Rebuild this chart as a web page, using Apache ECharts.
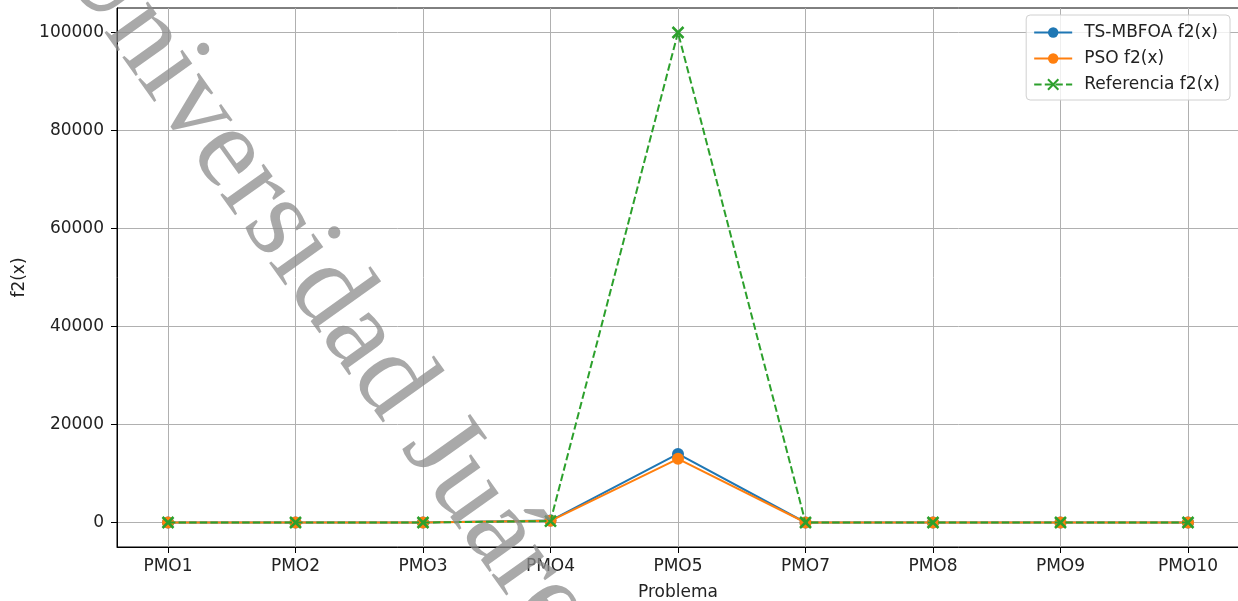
<!DOCTYPE html>
<html>
<head>
<meta charset="utf-8">
<script src="https://cdn.jsdelivr.net/npm/echarts@6/dist/echarts.min.js"></script>
<style>
  html, body { margin: 0; padding: 0; background: #fff; }
  #chart { width: 1238px; height: 601px; }
</style>
</head>
<body>
<div id="chart"></div>
<script>
// categorias del eje x
const categories = ['PMO1', 'PMO2', 'PMO3', 'PMO4', 'PMO5', 'PMO7', 'PMO8', 'PMO9', 'PMO10'];
// valores f2(x) por algoritmo
const tsMbfoa = [0, 0, 0, 400, 14000, 0, 0, 0, 0];
const pso = [0, 0, 0, 350, 13000, 0, 0, 0, 0];
const referencia = [0, 0, 0, 300, 100000, 0, 0, 0, 0];
// ticks
const yTicks = [0, 20000, 40000, 60000, 80000, 100000];
const xTicks = categories.map((c, i) => i);

const font = 'DejaVu Sans';
const fs = 17;
const toPoints = (arr) => arr.map((v, i) => [i, v]);

const chart = echarts.init(document.getElementById('chart'));

chart.setOption({
  animation: false,
  backgroundColor: '#fff',
  textStyle: { fontFamily: font },
  grid: {
    left: 117, top: 8, width: 1122, height: 539,
    outerBoundsMode: 'none',
    show: true, borderColor: '#000', borderWidth: 1
  },
  legend: {
    right: 8, top: 15,
    orient: 'vertical',
    itemWidth: 38, itemHeight: 13, itemGap: 9,
    padding: [9, 10, 7, 7],
    borderColor: '#d0d0d0', borderWidth: 1, borderRadius: 4,
    backgroundColor: 'rgba(255,255,255,0.8)',
    textStyle: { fontFamily: font, fontSize: fs, lineHeight: 17, color: '#222', padding: [0, 0, 0, 7] },
    data: ['TS-MBFOA f2(x)', 'PSO f2(x)', 'Referencia f2(x)']
  },
  xAxis: {
    type: 'value', min: -0.4, max: 8.4,
    name: 'Problema', nameLocation: 'middle', nameGap: 37,
    nameTextStyle: { fontFamily: font, fontSize: fs, color: '#222' },
    axisLine: { show: true, onZero: false, lineStyle: { color: '#000' } },
    axisTick: { show: true, length: 6, customValues: xTicks, lineStyle: { color: '#000' } },
    axisLabel: {
      customValues: xTicks, margin: 11,
      fontFamily: font, fontSize: fs, color: '#222',
      formatter: (v) => categories[Math.round(v)]
    },
    splitLine: { show: true, lineStyle: { color: '#b0b0b0', width: 1 } }
  },
  yAxis: {
    type: 'value', min: -5000, max: 105000,
    name: 'f2(x)', nameLocation: 'middle', nameGap: 86, nameRotate: 90,
    nameTextStyle: { fontFamily: font, fontSize: fs, color: '#222' },
    axisLine: { show: true, onZero: false, lineStyle: { color: '#000' } },
    axisTick: { show: true, length: 6, customValues: yTicks, lineStyle: { color: '#000' } },
    axisLabel: {
      customValues: yTicks, margin: 13,
      fontFamily: font, fontSize: fs, color: '#222',
      formatter: (v) => String(v)
    },
    splitLine: { show: true, lineStyle: { color: '#b0b0b0', width: 1 } }
  },
  series: [
    {
      name: 'TS-MBFOA f2(x)', type: 'line',
      data: toPoints(tsMbfoa),
      symbol: 'circle', symbolSize: 12,
      itemStyle: { color: '#1f77b4' },
      lineStyle: { color: '#1f77b4', width: 2 },
      z: 3
    },
    {
      name: 'PSO f2(x)', type: 'line',
      data: toPoints(pso),
      symbol: 'circle', symbolSize: 12,
      itemStyle: { color: '#ff7f0e' },
      lineStyle: { color: '#ff7f0e', width: 2 },
      z: 4
    },
    {
      name: 'Referencia f2(x)', type: 'line',
      data: toPoints(referencia),
      symbol: 'path://M0,0L10,10M10,0L0,10', symbolSize: 11,
      itemStyle: { color: '#2ca02c', borderColor: '#2ca02c', borderWidth: 2.5 },
      lineStyle: { color: '#2ca02c', width: 2, type: [7.4, 3.2] },
      z: 5
    }
  ],
  // marca de agua
  graphic: [
    {
      type: 'text', z: 100,
      x: 32, y: -22,
      rotation: -54.5 * Math.PI / 180,
      style: {
        text: 'Universidad Juárez',
        font: 'normal 116px "Liberation Serif"',
        fill: 'rgba(140,140,140,0.75)',
        verticalAlign: 'bottom', align: 'left'
      }
    }
  ]
});
</script>
</body>
</html>
